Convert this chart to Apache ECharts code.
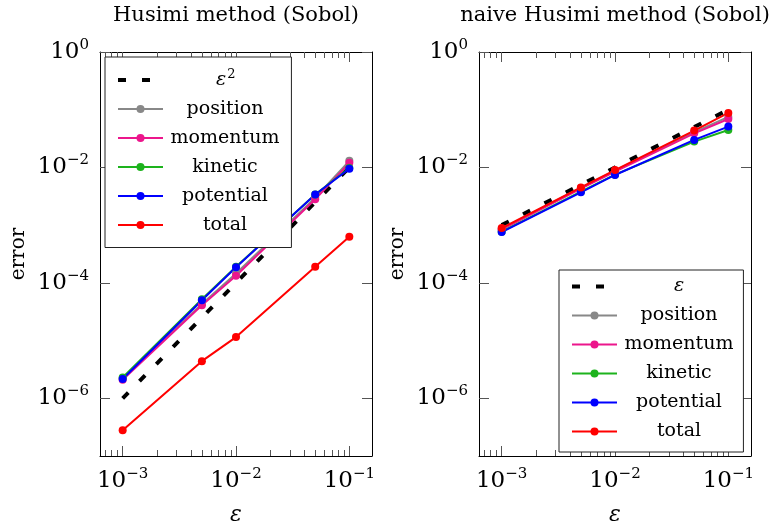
<!DOCTYPE html>
<html>
<head>
<meta charset="utf-8">
<script src="https://cdn.jsdelivr.net/npm/echarts@6/dist/echarts.min.js"></script>
<style>
  html, body { margin: 0; padding: 0; background: #fff; }
  #chart { width: 773px; height: 531px; }
</style>
</head>
<body>
<div id="chart"></div>
<script>
// ε values used in both panels
var eps = [1e-3, 5e-3, 1e-2, 5e-2, 1e-1];

// left: Husimi method (Sobol)
var refEps2 = [1e-6, 2.5e-5, 1e-4, 2.5e-3, 1e-2];
var husPosition = [2.2e-6, 4.3e-5, 1.45e-4, 3.0e-3, 1.3e-2];
var husMomentum = [2.1e-6, 4.1e-5, 1.33e-4, 2.8e-3, 1.2e-2];
var husKinetic = [2.3e-6, 5.2e-5, 1.9e-4, 3.4e-3, 9.8e-3];
var husPotential = [2.16e-6, 5.0e-5, 1.87e-4, 3.4e-3, 9.5e-3];
var husTotal = [2.8e-7, 4.4e-6, 1.15e-5, 1.9e-4, 6.3e-4];

// right: naive Husimi method (Sobol)
var refEps = [1e-3, 5e-3, 1e-2, 5e-2, 1e-1];
var naivePosition = [8.6e-4, 4.4e-3, 8.8e-3, 4.1e-2, 7.5e-2];
var naiveMomentum = [8.4e-4, 4.3e-3, 8.5e-3, 3.9e-2, 6.9e-2];
var naiveKinetic = [7.7e-4, 3.8e-3, 7.5e-3, 2.8e-2, 4.45e-2];
var naivePotential = [7.6e-4, 3.7e-3, 7.4e-3, 3.0e-2, 5.1e-2];
var naiveTotal = [8.9e-4, 4.5e-3, 9.0e-3, 4.35e-2, 8.8e-2];

var xMajor = [1e-3, 1e-2, 1e-1];
var xMinor = [7e-4, 8e-4, 9e-4, 2e-3, 3e-3, 4e-3, 5e-3, 6e-3, 7e-3, 8e-3, 9e-3,
  2e-2, 3e-2, 4e-2, 5e-2, 6e-2, 7e-2, 8e-2, 9e-2];
var yMajor = [1, 1e-2, 1e-4, 1e-6];

var names = ['position', 'momentum', 'kinetic', 'potential', 'total'];
var colors = ['#888888', '#ec168c', '#1db31d', '#0000ff', '#ff0000'];

var FONT = 'DejaVu Serif';
var myChart = echarts.init(document.getElementById('chart'), null, { renderer: 'canvas' });

function pow10Label(v) {
  var e = Math.round(Math.log10(v));
  return '{b|10}{s|' + String(e).replace('-', '\u2212') + '}';
}
var powRich = {
  b: { fontFamily: FONT, fontSize: 23, color: '#000' },
  s: { fontFamily: FONT, fontSize: 15, color: '#000', verticalAlign: 'bottom', padding: [0, 0, 14, 0] }
};

var grids = [
  { left: 100, top: 49, width: 272, height: 410 },
  { left: 479, top: 49, width: 272, height: 410 }
];
var titles = ['Husimi method (Sobol)', 'naive Husimi method (Sobol)'];

var xAxes = [], yAxes = [];
grids.forEach(function (g, gi) {
  var base = {
    gridIndex: gi, type: 'log', logBase: 10,
    min: Math.pow(10, -3.2), max: Math.pow(10, -0.8),
    splitLine: { show: false }, axisPointer: { show: false }
  };
  // bottom, major ticks + labels
  xAxes.push(Object.assign({}, base, {
    position: 'bottom',
    axisLine: { show: true, onZero: false, lineStyle: { color: '#000', width: 1 } },
    axisTick: { show: true, inside: true, length: 10, customValues: xMajor, lineStyle: { color: '#555' } },
    axisLabel: { customValues: xMajor, margin: 11, formatter: pow10Label, rich: powRich },
    name: 'ε', nameLocation: 'middle', nameGap: 48,
    nameTextStyle: { fontFamily: FONT, fontSize: 22, fontStyle: 'italic', color: '#000' }
  }));
  // bottom, minor ticks
  xAxes.push(Object.assign({}, base, {
    position: 'bottom',
    axisLine: { show: false, onZero: false },
    axisTick: { show: true, inside: true, length: 6, customValues: xMinor, lineStyle: { color: '#555' } },
    axisLabel: { show: false }
  }));
  // top, major ticks + title
  xAxes.push(Object.assign({}, base, {
    position: 'top',
    axisLine: { show: true, onZero: false, lineStyle: { color: '#000', width: 1 } },
    axisTick: { show: true, inside: true, length: 10, customValues: xMajor, lineStyle: { color: '#555' } },
    axisLabel: { show: false },
    name: titles[gi], nameLocation: 'middle', nameGap: 26,
    nameTextStyle: { fontFamily: FONT, fontSize: 21, color: '#000' }
  }));
  // top, minor ticks
  xAxes.push(Object.assign({}, base, {
    position: 'top',
    axisLine: { show: false, onZero: false },
    axisTick: { show: true, inside: true, length: 6, customValues: xMinor, lineStyle: { color: '#555' } },
    axisLabel: { show: false }
  }));

  var ybase = {
    gridIndex: gi, type: 'log', logBase: 10, min: 1e-7, max: 1,
    splitLine: { show: false }, axisPointer: { show: false }
  };
  yAxes.push(Object.assign({}, ybase, {
    position: 'left',
    axisLine: { show: true, onZero: false, lineStyle: { color: '#000', width: 1 } },
    axisTick: { show: true, inside: true, length: 10, customValues: yMajor, lineStyle: { color: '#555' } },
    axisLabel: { customValues: yMajor, margin: 11, formatter: pow10Label, rich: powRich },
    name: 'error', nameLocation: 'middle', nameGap: 71, nameRotate: 90,
    nameTextStyle: { fontFamily: FONT, fontSize: 20, color: '#000' }
  }));
  yAxes.push(Object.assign({}, ybase, {
    position: 'right',
    axisLine: { show: true, onZero: false, lineStyle: { color: '#000', width: 1 } },
    axisTick: { show: true, inside: true, length: 10, customValues: yMajor, lineStyle: { color: '#555' } },
    axisLabel: { show: false }
  }));
});

function pairs(ys) {
  return eps.map(function (x, i) { return [x, ys[i]]; });
}

var series = [];
function addPanel(gi, refName, refVals, vals) {
  series.push({
    name: refName, type: 'line', xAxisIndex: gi * 4, yAxisIndex: gi * 2,
    data: pairs(refVals), symbol: 'none', silent: true,
    lineStyle: { color: '#000', width: 4, type: [8, 16] }, itemStyle: { color: '#000' }
  });
  vals.forEach(function (v, k) {
    series.push({
      name: names[k], type: 'line', xAxisIndex: gi * 4, yAxisIndex: gi * 2,
      data: pairs(v), symbol: 'circle', symbolSize: 8,
      lineStyle: { color: colors[k], width: 2 }, itemStyle: { color: colors[k] }
    });
  });
}
addPanel(0, 'ε²', refEps2, [husPosition, husMomentum, husKinetic, husPotential, husTotal]);
addPanel(1, 'ε', refEps, [naivePosition, naiveMomentum, naiveKinetic, naivePotential, naiveTotal]);

var legendText = {
  rich: {
    c: { fontFamily: FONT, fontSize: 19, color: '#000', width: 114, align: 'center' },
    e: { fontFamily: FONT, fontSize: 19, fontStyle: 'italic', color: '#000', padding: [0, 0, 0, 48] },
    p: { fontFamily: FONT, fontSize: 13, color: '#000', verticalAlign: 'bottom', padding: [0, 0, 11, 1] },
    i: { fontFamily: FONT, fontSize: 19, fontStyle: 'italic', color: '#000', width: 114, align: 'center' }
  }
};
function legendFmt(n) {
  if (n === 'ε²') return '{e|ε}{p|2}';
  if (n === 'ε') return '{i|ε}';
  return '{c|' + n + '}';
}
var legendBase = {
  orient: 'vertical', itemWidth: 45, itemHeight: 10, itemGap: 10,
  borderColor: '#222', borderWidth: 1, backgroundColor: '#fff',
  formatter: legendFmt, textStyle: legendText, selectedMode: false
};
var dashIcon = { itemStyle: { opacity: 0 }, lineStyle: { color: '#000', width: 4, type: [8, 16] } };

var option = {
  animation: false,
  backgroundColor: '#fff',
  grid: grids,
  xAxis: xAxes,
  yAxis: yAxes,
  legend: [
    Object.assign({}, legendBase, {
      left: 105, top: 57, padding: [11, 12, 13, 11],
      data: [Object.assign({ name: 'ε²' }, dashIcon)].concat(names)
    }),
    Object.assign({}, legendBase, {
      left: 559, top: 270, padding: [7, 10, 11, 11],
      data: [Object.assign({ name: 'ε' }, dashIcon)].concat(names)
    })
  ],
  series: series
};

myChart.setOption(option);
</script>
</body>
</html>
